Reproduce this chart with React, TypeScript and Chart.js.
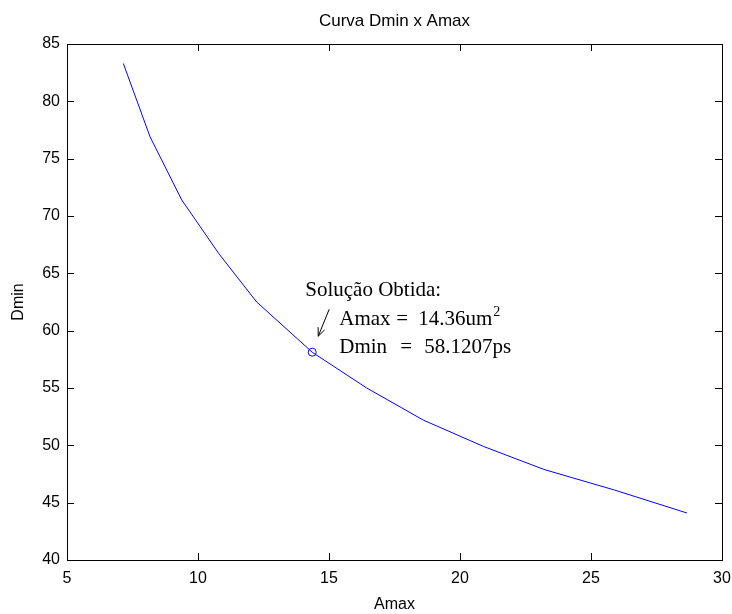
import React, { useEffect, useRef } from "react";
import { Chart, registerables } from "chart.js";

Chart.register(...registerables);

const amaxValues = [7.15, 8.17, 9.38, 10.8, 12.24, 14.36, 16.44, 18.6, 20.9, 23.2, 25.9, 28.66];
const dminValues = [83.3, 76.9, 71.4, 66.7, 62.5, 58.12, 55.0, 52.2, 49.9, 47.9, 46.1, 44.1];
const solutionAmax = 14.36;
const solutionDmin = 58.1207;
const xTicks = [5, 10, 15, 20, 25, 30];
const yTicks = [40, 45, 50, 55, 60, 65, 70, 75, 80, 85];
const titleText = "Curva Dmin x Amax";
const xLabel = "Amax";
const yLabel = "Dmin";

const SANS = "'Liberation Sans', Arial, Helvetica, sans-serif";
const SERIF = "'Liberation Serif', 'Times New Roman', serif";

const boxPlugin = {
  id: "matlabBox",
  afterDraw(chart: any) {
    const { ctx, chartArea, scales } = chart;
    const { left, right, top, bottom } = chartArea;
    ctx.save();
    ctx.strokeStyle = "#000";
    ctx.lineWidth = 1;
    ctx.strokeRect(Math.round(left) + 0.5, Math.round(top) + 0.5, Math.round(right - left), Math.round(bottom - top));
    const tl = 7;
    ctx.beginPath();
    xTicks.forEach((v) => {
      const px = Math.round(scales.x.getPixelForValue(v)) + 0.5;
      ctx.moveTo(px, bottom);
      ctx.lineTo(px, bottom - tl);
      ctx.moveTo(px, top);
      ctx.lineTo(px, top + tl);
    });
    yTicks.forEach((v) => {
      const py = Math.round(scales.y.getPixelForValue(v)) + 0.5;
      ctx.moveTo(left, py);
      ctx.lineTo(left + tl, py);
      ctx.moveTo(right, py);
      ctx.lineTo(right - tl, py);
    });
    ctx.stroke();

    // annotation
    const mx = scales.x.getPixelForValue(solutionAmax);
    const my = scales.y.getPixelForValue(solutionDmin);
    ctx.fillStyle = "#000";
    ctx.textBaseline = "alphabetic";
    ctx.textAlign = "left";
    ctx.font = `21px ${SERIF}`;
    ctx.fillText("Solução Obtida:", mx - 7, my - 56);
    ctx.fillText("Amax", mx + 27, my - 27);
    ctx.fillText("=", mx + 84, my - 27);
    ctx.fillText("14.36um", mx + 106, my - 27);
    const w = ctx.measureText("14.36um").width;
    ctx.font = `14px ${SERIF}`;
    ctx.fillText("2", mx + 107 + w, my - 36);
    ctx.font = `21px ${SERIF}`;
    ctx.fillText("Dmin", mx + 27, my + 1);
    ctx.fillText("=", mx + 88, my + 1);
    ctx.fillText("58.1207ps", mx + 112, my + 1);

    // arrow
    const x1 = mx + 17, y1 = my - 43;
    const x2 = mx + 6, y2 = my - 16;
    ctx.beginPath();
    ctx.moveTo(x1, y1);
    ctx.lineTo(x2, y2);
    const ang = Math.atan2(y2 - y1, x2 - x1);
    const hl = 9;
    ctx.moveTo(x2, y2);
    ctx.lineTo(x2 - hl * Math.cos(ang - 0.4), y2 - hl * Math.sin(ang - 0.4));
    ctx.moveTo(x2, y2);
    ctx.lineTo(x2 - hl * Math.cos(ang + 0.4), y2 - hl * Math.sin(ang + 0.4));
    ctx.stroke();
    ctx.restore();
  },
};

// MATLAB centres the title over the axes box
const titlePlugin = {
  id: "axesTitle",
  afterDraw(chart: any) {
    const { ctx, chartArea } = chart;
    ctx.save();
    ctx.fillStyle = "#000";
    ctx.font = `17px ${SANS}`;
    ctx.textAlign = "center";
    ctx.textBaseline = "middle";
    ctx.fillText(titleText, (chartArea.left + chartArea.right) / 2, chartArea.top - 23);
    ctx.restore();
  },
};

export default function App() {
  const ref = useRef<HTMLCanvasElement | null>(null);
  useEffect(() => {
    document.body.style.margin = "0";
    const canvas = ref.current;
    if (!canvas) return;
    const curve = amaxValues.map((x, i) => ({ x, y: dminValues[i] }));
    const chart = new Chart(canvas, {
      type: "scatter",
      data: {
        datasets: [
          {
            data: curve,
            showLine: true,
            borderColor: "#0000ff",
            borderWidth: 1,
            pointRadius: 0,
            tension: 0,
          },
          {
            data: [{ x: solutionAmax, y: solutionDmin }],
            showLine: false,
            borderColor: "#0000ff",
            backgroundColor: "rgba(0,0,0,0)",
            borderWidth: 1,
            pointRadius: 4,
            pointStyle: "circle",
          },
        ],
      },
      options: {
        animation: false,
        responsive: false,
        layout: { padding: { left: 0, right: 10, top: 44, bottom: 0 } },
        plugins: {
          legend: { display: false },
          tooltip: { enabled: false },
          title: { display: false },
        },
        scales: {
          x: {
            type: "linear",
            min: 5,
            max: 30,
            afterFit: (s: any) => {
              s.height = 54;
              s.paddingLeft = 0;
              s.paddingRight = 0;
            },
            grid: { display: false, drawTicks: false },
            border: { display: false },
            ticks: {
              stepSize: 5,
              padding: 9,
              color: "#000",
              font: { family: SANS, size: 16 },
              maxRotation: 0,
            },
            title: {
              display: true,
              text: xLabel,
              color: "#000",
              font: { family: SANS, size: 16, lineHeight: 1.2 },
              padding: { top: 0, bottom: 0 },
            },
          },
          y: {
            type: "linear",
            min: 40,
            max: 85,
            afterFit: (s: any) => {
              s.width = 67;
              s.paddingTop = 0;
              s.paddingBottom = 0;
            },
            grid: { display: false, drawTicks: false },
            border: { display: false },
            ticks: {
              stepSize: 5,
              padding: 7,
              color: "#000",
              font: { family: SANS, size: 16 },
            },
            title: {
              display: true,
              text: yLabel,
              color: "#000",
              font: { family: SANS, size: 16, lineHeight: 1.2 },
              padding: { top: 9, bottom: 0 },
            },
          },
        },
      },
      plugins: [boxPlugin, titlePlugin],
    });
    return () => chart.destroy();
  }, []);
  return (
    <div style={{ width: 732, height: 614, background: "#fff" }}>
      <canvas ref={ref} width={732} height={614} />
    </div>
  );
}
